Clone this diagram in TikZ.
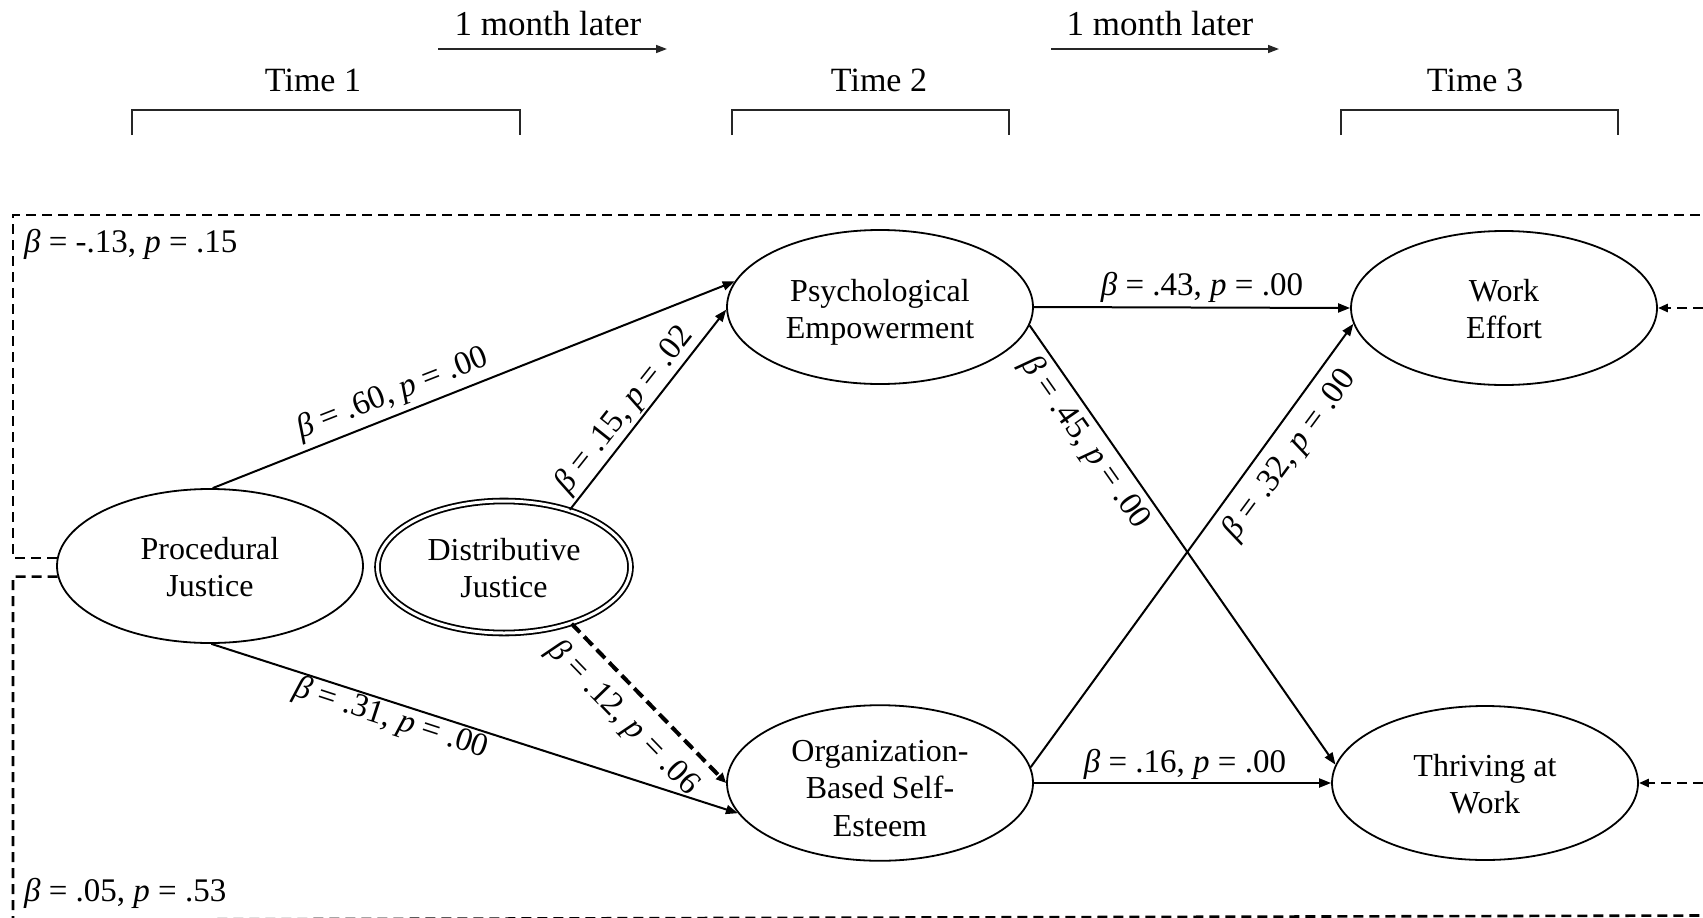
\documentclass[tikz,border=0pt]{standalone}
\usepackage{fontspec}
\setmainfont{Liberation Serif}
\usetikzlibrary{shapes.geometric,arrows.meta}
\newcommand\mytop[1]{\rule{0pt}{#1pt}}
\newcommand\mybot[1]{\rule[-#1pt]{0pt}{#1pt}}
\begin{document}
\begin{tikzpicture}[x=1pt,y=-1pt,
  ell/.style={ellipse, draw, line width=1.8pt, minimum width=306pt, minimum height=154pt,
    inner sep=0pt, align=center, font=\fontsize{32}{37.5}\selectfont},
  arr/.style={line width=2pt, -{Triangle[length=12pt,width=9pt]}},
  darr/.style={line width=4pt, dash pattern=on 12pt off 6pt, -{Triangle[length=10pt,width=9pt]}},
  lab/.style={font=\fontsize{33}{38}\selectfont, inner sep=0pt},
  frame/.style={line width=2.6pt, dash pattern=on 10pt off 6pt},
  farr/.style={frame, -{Triangle[length=10pt,width=8pt]}},
  hdr/.style={font=\fontsize{34}{38}\selectfont, inner sep=0pt},
  mhdr/.style={font=\fontsize{35}{38}\selectfont, inner sep=0pt},
  brk/.style={line width=1.5pt, color=black!85},
  tarr/.style={line width=1.5pt, color=black!85, -{Triangle[length=11pt,width=8pt]}},
]
\useasboundingbox (0,0) rectangle (1703,918);

% time header
\node[hdr] (t1) at (313,80) {Time 1};
\node[hdr] (t2) at (879,80) {Time 2};
\node[hdr] (t3) at (1475,80) {Time 3};
\node[mhdr] (m1) at (548,24) {1 month later};
\node[mhdr] (m2) at (1160,24) {1 month later};
\coordinate (a1s) at (438,49); \coordinate (a1e) at (667,49);
\coordinate (a2s) at (1051,49); \coordinate (a2e) at (1279,49);
\draw[tarr] (a1s) -- (a1e);
\draw[tarr] (a2s) -- (a2e);
\draw[brk] (132,135) -- (132,110) -- (520,110) -- (520,135);
\draw[brk] (732,135) -- (732,110) -- (1009,110) -- (1009,135);
\draw[brk] (1341,135) -- (1341,110) -- (1618,110) -- (1618,135);

% constructs
\node[ell] (PJ) at (210,566) {\mytop{30}Procedural\\Justice\mybot{6}};
\node[ell, double, double distance=3pt, minimum width=253pt, minimum height=132pt] (DJ) at (504,567) {\mytop{30}Distributive\\Justice\mybot{6}};
\node[ell] (PE) at (880,307) {\mytop{33}Psychological\\Empowerment\mybot{2}};
\node[ell] (OB) at (880,783) {\mytop{33}Organization-\\Based Self-\\Esteem\mybot{2}};
\node[ell] (WE) at (1504,308) {\mytop{30}Work\\Effort\mybot{6}};
\node[ell] (TW) at (1485,783) {\mytop{30}Thriving at\\Work\mybot{6}};

% paths
\draw[arr] (PJ.88) -- (PE.170);
\draw[arr] (DJ.41) -- (PE.181);
\draw[arr] (PJ.-89) -- (OB.192);
\draw[darr] (DJ.-40) -- (OB.180);
\draw[arr] (PE.east) -- (WE.west);
\draw[arr] (PE.-7) -- (TW.173);
\draw[arr] (OB.6) -- (WE.186);
\draw[arr] (OB.east) -- (TW.west);

% control paths (dashed frame)
\coordinate (ftl) at (13,215);
\coordinate (ftr) at (1703,215);
\coordinate (fbl) at (13,919.8);
\coordinate (fbr) at (1703,915.5);
\coordinate (fr) at (1703,0);
\draw[frame] (PJ.177) -- (PJ.177 -| ftl) -- (ftl) -- (ftr);
\draw[frame] (PJ.184) -- (PJ.184 -| fbl) -- (fbl) -- (fbr);
\draw[farr] (WE.east -| fr) -- (WE.east);
\draw[farr] (TW.east -| fr) -- (TW.east);

% coefficients
\node[lab, rotate=21.3] (l1) at (393,394) {\textit{β} = .60, \textit{p} = .00};
\node[lab, rotate=51.6] (l2) at (625,410) {\textit{β} = .15, \textit{p} = .02};
\node[lab, rotate=-18.0] (l3) at (391,719) {\textit{β} = .31, \textit{p} = .00};
\node[lab, rotate=-45.9] (l4) at (623,718) {\textit{β} = .12, \textit{p} = .06};
\node[lab] (l5) at (1202,287) {\textit{β} = .43, \textit{p} = .00};
\node[lab, rotate=-55.0] (l6) at (1085,443) {\textit{β} = .45, \textit{p} = .00};
\node[lab, rotate=53.6] (l7) at (1290,455) {\textit{β} = .32, \textit{p} = .00};
\node[lab] (l8) at (1185,764) {\textit{β} = .16, \textit{p} = .00};
\node[lab, anchor=west] (l9) at (24,244) {\textit{β} = -.13, \textit{p} = .15};
\node[lab, anchor=west] (l10) at (24,893) {\textit{β} = .05, \textit{p} = .53};
\end{tikzpicture}
\end{document}
